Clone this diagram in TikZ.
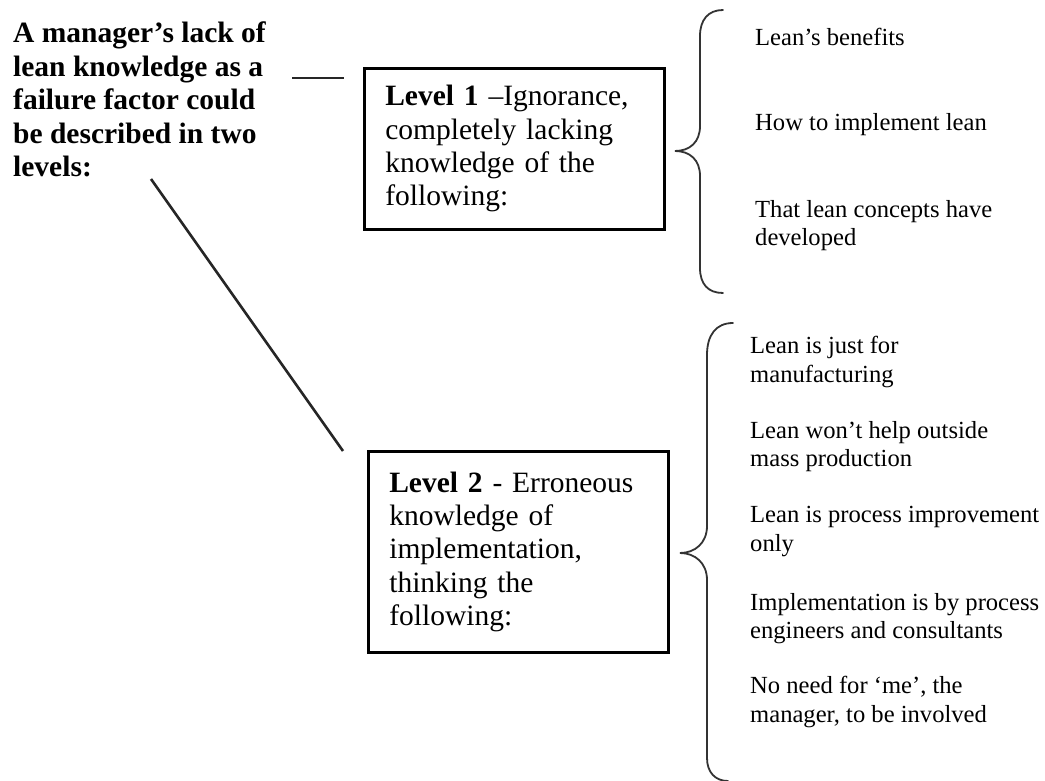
\documentclass[tikz,border=0pt]{standalone}
\usepackage{fontspec}
\setmainfont{Liberation Serif}
\begin{document}
\begin{tikzpicture}[x=1pt,y=-1pt,
  titletext/.style={anchor=north west,inner sep=0pt,align=left,font=\fontsize{29.5}{33.4}\selectfont\bfseries},
  levelbox/.style={draw,line width=2.6pt,inner xsep=20pt,inner ysep=0pt,text width=258pt,align=left,
     minimum width=300pt,anchor=north west,font=\fontsize{29.5}{33.3}\selectfont},
  itemtext/.style={anchor=north west,inner sep=0pt,align=left,font=\fontsize{24.6}{28.6}\selectfont},
  conn/.style={line width=2.6pt,black!85},
  bracepath/.style={line width=1.8pt,black!80,line cap=round}]
\useasboundingbox (0,0) rectangle (1045,781);
% title
\node[titletext] (title) at (13,22) {A manager’s lack of\\lean knowledge as a\\failure factor could\\be described in two\\levels:};
% level boxes
\node[levelbox,minimum height=161pt] (lvA) at (363,67) {\textbf{Level 1} –Ignorance,\\completely lacking\\knowledge of the\\following:};
\node[levelbox,minimum height=201pt] (lvB) at (367,450) {\textbf{Level 2} - Erroneous\\knowledge of\\implementation,\\thinking the\\following:};
% connectors
\coordinate (h1) at (292,78);
\coordinate (h2) at (344,78);
\draw[conn] (h1) -- (h2);
\coordinate (d1) at (151,179);
\coordinate (d2) at (343,451);
\draw[conn] (d1) -- (d2);
% brace 1
\coordinate (bAtop) at (723,10);
\coordinate (bAtip) at (675,151);
\coordinate (bAbot) at (723,293);
\draw[bracepath] (bAtop) .. controls (708,10) and (700,20) .. (700,36) -- (700,126)
  .. controls (700,142) and (690,151) .. (bAtip)
  .. controls (690,151) and (700,160) .. (700,176) -- (700,268)
  .. controls (700,284) and (708,293) .. (bAbot);
% brace 2
\coordinate (bBtop) at (733,323);
\coordinate (bBtip) at (680,553);
\coordinate (bBbot) at (728,781);
\draw[bracepath] (bBtop) .. controls (716,323) and (707,335) .. (707,355) -- (707,526)
  .. controls (707,543) and (695,553) .. (bBtip)
  .. controls (695,553) and (707,563) .. (707,580) -- (707,758)
  .. controls (707,772) and (715,781) .. (bBbot);
% items level 1
\node[itemtext] (a1) at (755,28) {Lean’s benefits};
\node[itemtext] (a2) at (755,113) {How to implement lean};
\node[itemtext] (a3) at (755,200) {That lean concepts have\\developed};
% items level 2
\node[itemtext] (b1) at (750,336) {Lean is just for\\manufacturing};
\node[itemtext] (b2) at (750,421) {Lean won’t help outside\\mass production};
\node[itemtext] (b3) at (750,506) {Lean is process improvement\\only};
\node[itemtext] (b4) at (750,593) {Implementation is by process\\engineers and consultants};
\node[itemtext] (b5) at (750,676) {No need for ‘me’, the\\manager, to be involved};
\end{tikzpicture}
\end{document}
